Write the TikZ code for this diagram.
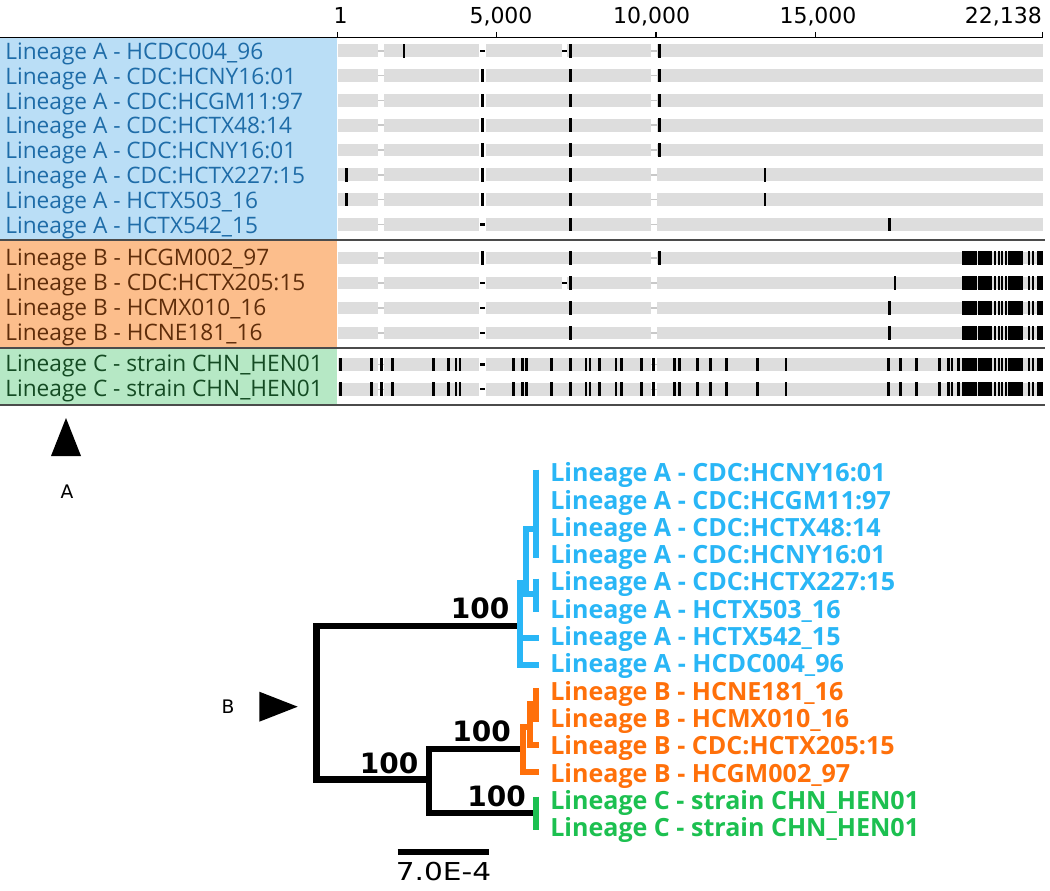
\documentclass[tikz,border=0pt]{standalone}
\usepackage{fontspec}
\usepackage{graphicx}
\setmainfont{Open Sans}
\newfontfamily\dvs{DejaVu Sans}
\definecolor{aBg}{RGB}{186,222,246}
\definecolor{bBg}{RGB}{252,190,140}
\definecolor{cBg}{RGB}{182,232,197}
\definecolor{aTx}{RGB}{30,108,168}
\definecolor{bTx}{RGB}{95,45,10}
\definecolor{cTx}{RGB}{20,75,35}
\definecolor{barGray}{RGB}{221,221,221}
\definecolor{connGray}{RGB}{200,200,200}
\definecolor{sepGray}{RGB}{75,75,75}
\definecolor{treeA}{RGB}{41,182,246}
\definecolor{treeB}{RGB}{255,112,10}
\definecolor{treeC}{RGB}{28,192,80}
\tikzset{
  tbl/.style={anchor=base west, inner sep=0pt, font=\fontsize{17pt}{19pt}\selectfont},
  leaf/.style={anchor=base west, inner sep=0pt, font=\fontsize{18.8pt}{21pt}\selectfont\bfseries},
  boot/.style={anchor=base, inner sep=0pt, font=\dvs\fontsize{21pt}{24pt}\selectfont\bfseries},
  axlab/.style={anchor=base, inner sep=0pt, font=\dvs\fontsize{16.5pt}{20pt}\selectfont},
  small/.style={anchor=base, inner sep=0pt, font=\dvs\fontsize{14pt}{16pt}\selectfont},
  blk/.style={line width=4.9pt, black},
  blu/.style={line width=4.5pt, treeA},
  org/.style={line width=4.5pt, treeB},
  grn/.style={line width=4.5pt, treeC},
  sepline/.style={line width=1.5pt, sepGray},
}
\newcommand\rowbase{%
  \fill[barGray] (338,-6.35) rectangle (378.3,6.35);
  \fill[barGray] (384.3,-6.35) rectangle (479.3,6.35);
  \fill[barGray] (486,-6.35) rectangle (651,6.35);
  \fill[barGray] (657,-6.35) rectangle (1043.3,6.35);
  \draw[connGray, line width=1.1pt] (378.3,0) -- (384.3,0) (651,0) -- (657,0);
}
\newcommand\gapb{\fill[white] (562.3,-7) rectangle (567.3,7);}
\newcommand\myticks[1]{\foreach \x in {#1} {\fill[black] (\x-1.3,-6.8) rectangle (\x+1.3,6.8);}}
\newcommand\mydash[1]{\fill[black] (#1-2.6,-1.2) rectangle (#1+2.6,1.2);}
\newcommand\myblocks{\foreach \a/\b in {961.7/976.7, 978.3/991.7, 994.3/996.3, 997.8/999.8, 1001.3/1003.3, 1004.8/1006.8, 1008.3/1023.3, 1027.5/1029.7, 1032/1034.2, 1036.7/1043.3} {\fill[black] (\a,-6.8) rectangle (\b,6.8);}}
\begin{document}
\begin{tikzpicture}[x=0.75pt,y=-0.75pt]
\useasboundingbox (0,0) rectangle (1050,891);
\fill[white] (0,0) rectangle (1050,891);

% label backgrounds
\fill[aBg] (0,38) rectangle (337.3,240);
\fill[bBg] (0,241) rectangle (337.3,347);
\fill[cBg] (0,348.5) rectangle (337.3,405);

% axis
\draw[black, line width=1pt] (0,37.3) -- (1043,37.3);
\foreach \x in {337.3,496.6,655.9,815.3,1042.7} {\draw[black, line width=1.1pt] (\x,32) -- (\x,37.3);}
\node[axlab] (t1) at (340.5,23.3) {1};
\node[axlab] (t2) at (501,23.3) {5,000};
\node[axlab] (t3) at (651.7,23.3) {10,000};
\node[axlab] (t4) at (818,23.3) {15,000};
\node[axlab] (t5) at (1003.3,23.3) {22,138};

% ---- Lineage A rows
\begin{scope}[shift={(0,50.8)}]\rowbase\gapb\myticks{404,570.7,659.3}\mydash{482.7}\mydash{564.8}\end{scope}
\begin{scope}[shift={(0,75.6)}]\rowbase\myticks{482.7,570.7,659.3}\end{scope}
\begin{scope}[shift={(0,100.4)}]\rowbase\myticks{482.7,570.7,659.3}\end{scope}
\begin{scope}[shift={(0,125.2)}]\rowbase\myticks{482.7,570.7,659.3}\end{scope}
\begin{scope}[shift={(0,150.0)}]\rowbase\myticks{482.7,570.7,659.3}\end{scope}
\begin{scope}[shift={(0,174.8)}]\rowbase\myticks{346.7,482.7,570.7,765}\end{scope}
\begin{scope}[shift={(0,199.6)}]\rowbase\myticks{346.7,482.7,570.7,765}\end{scope}
\begin{scope}[shift={(0,224.4)}]\rowbase\myticks{570.7,889.3}\mydash{482.7}\end{scope}
% ---- Lineage B rows
\begin{scope}[shift={(0,258)}]\rowbase\myticks{482.7,570.7,659.3}\myblocks\end{scope}
\begin{scope}[shift={(0,283)}]\rowbase\gapb\myticks{570.7,895}\mydash{482.7}\mydash{564.8}\myblocks\end{scope}
\begin{scope}[shift={(0,308)}]\rowbase\myticks{570.7,889.3}\mydash{482.7}\myblocks\end{scope}
\begin{scope}[shift={(0,333)}]\rowbase\myticks{570.7,889.3}\mydash{482.7}\myblocks\end{scope}
% ---- Lineage C rows
\foreach \yy in {364.7,389.3} {
\begin{scope}[shift={(0,\yy)}]\rowbase
\myticks{340.7,371.7,381.7,392.3,433.3,448.3,456,460,513.3,522.7,526.7,551.7,570.7,586,590,599.3,616,621.7,641.7,653.3,674.3,679.3,697.3,710.7,726.7,757.3,786,888.3,900.7,916.7,939.3,948.3,951.8,958.3}
\mydash{482.7}\myblocks\end{scope}}

% separators
\draw[sepline] (0,240.5) -- (1045,240.5);
\draw[sepline] (0,347.7) -- (1045,347.7);
\draw[sepline] (0,405.2) -- (1045,405.2);

% table labels
\node[tbl, text=aTx] (la1) at (5,59.6) {Lineage A - HCDC004\_96};
\node[tbl, text=aTx] (la2) at (5,84.4) {Lineage A - CDC:HCNY16:01};
\node[tbl, text=aTx] (la3) at (5,109.2) {Lineage A - CDC:HCGM11:97};
\node[tbl, text=aTx] (la4) at (5,134.0) {Lineage A - CDC:HCTX48:14};
\node[tbl, text=aTx] (la5) at (5,158.8) {Lineage A - CDC:HCNY16:01};
\node[tbl, text=aTx] (la6) at (5,183.6) {Lineage A - CDC:HCTX227:15};
\node[tbl, text=aTx] (la7) at (5,208.4) {Lineage A - HCTX503\_16};
\node[tbl, text=aTx] (la8) at (5,233.2) {Lineage A - HCTX542\_15};
\node[tbl, text=bTx] (lb1) at (5,265.2) {Lineage B - HCGM002\_97};
\node[tbl, text=bTx] (lb2) at (5,290.2) {Lineage B - CDC:HCTX205:15};
\node[tbl, text=bTx] (lb3) at (5,315.2) {Lineage B - HCMX010\_16};
\node[tbl, text=bTx] (lb4) at (5,340.2) {Lineage B - HCNE181\_16};
\node[tbl, text=cTx] (lc1) at (5,371.9) {Lineage C - strain CHN\_HEN01};
\node[tbl, text=cTx] (lc2) at (5,396.5) {Lineage C - strain CHN\_HEN01};

% markers A and B
\fill[black] (51,456) -- (66,418) -- (81,456) -- cycle;
\node[small] (markA) at (67,498) {A};
\fill[black] (259.3,691.7) -- (297.7,706.7) -- (259.3,721.7) -- cycle;
\node[small] (markB) at (228,713) {B};

% ---- tree
\coordinate (rootT) at (316.5,626);
\coordinate (rootB) at (316.5,779.5);
\coordinate (nA) at (520,626);
\coordinate (nBC) at (429,779.5);
\coordinate (nBCt) at (429,749);
\coordinate (nBCb) at (429,813);
\coordinate (nB) at (521,749);
\coordinate (nC) at (533,813);
\draw[blk] (nA) -- (rootT) -- (rootB) -- (nBC);
\draw[blk] (nB) -- (nBCt) -- (nBCb) -- (nC);

% blue clade
\coordinate (a14t) at (536,469.5);
\coordinate (a14b) at (536,557.5);
\coordinate (a14m) at (536,529);
\coordinate (a16t) at (525.7,529);
\coordinate (a16b) at (525.7,594);
\coordinate (a56m) at (536,594);
\coordinate (a56t) at (536,578.5);
\coordinate (a56b) at (536,611.5);
\coordinate (aR) at (525.7,583);
\coordinate (aT) at (520,583);
\coordinate (aB) at (520,664.5);
\coordinate (a8) at (538.5,664.5);
\coordinate (a7s) at (520,637.5);
\coordinate (a7) at (538.5,637.5);
\draw[blu] (a14t) -- (a14b);
\draw[blu] (a14m) -- (a16t) -- (a16b) -- (a56m);
\draw[blu] (a56t) -- (a56b);
\draw[blu] (aR) -- (aT) -- (aB) -- (a8);
\draw[blu] (a7s) -- (a7);

% orange clade
\coordinate (b12t) at (535.5,688.3);
\coordinate (b12b) at (535.5,721.7);
\coordinate (b12m) at (535.5,704);
\coordinate (b13t) at (530,704);
\coordinate (b13b) at (530,745);
\coordinate (b3) at (538.5,745);
\coordinate (bRm) at (530,727);
\coordinate (bT) at (523,727);
\coordinate (bB) at (523,771.7);
\coordinate (b4) at (538.5,771.7);
\draw[org] (b12t) -- (b12b);
\draw[org] (b12m) -- (b13t) -- (b13b) -- (b3);
\draw[org] (bRm) -- (bT) -- (bB) -- (b4);

% green clade
\coordinate (c12t) at (535.5,796.7);
\coordinate (c12b) at (535.5,830);
\draw[grn] (c12t) -- (c12b);

% bootstrap values
\node[boot] (bs1) at (480,618.3) {100};
\node[boot] (bs2) at (481.7,741.7) {100};
\node[boot] (bs3) at (389,773.3) {100};
\node[boot] (bs4) at (496.7,806.7) {100};

% leaf labels
\node[leaf, text=treeA] (t01) at (550,481.7) {Lineage A - CDC:HCNY16:01};
\node[leaf, text=treeA] (t02) at (550,509.0) {Lineage A - CDC:HCGM11:97};
\node[leaf, text=treeA] (t03) at (550,536.3) {Lineage A - CDC:HCTX48:14};
\node[leaf, text=treeA] (t04) at (550,563.6) {Lineage A - CDC:HCNY16:01};
\node[leaf, text=treeA] (t05) at (550,590.9) {Lineage A - CDC:HCTX227:15};
\node[leaf, text=treeA] (t06) at (550,618.2) {Lineage A - HCTX503\_16};
\node[leaf, text=treeA] (t07) at (550,645.5) {Lineage A - HCTX542\_15};
\node[leaf, text=treeA] (t08) at (550,672.8) {Lineage A - HCDC004\_96};
\node[leaf, text=treeB] (t09) at (550,700.1) {Lineage B - HCNE181\_16};
\node[leaf, text=treeB] (t10) at (550,727.4) {Lineage B - HCMX010\_16};
\node[leaf, text=treeB] (t11) at (550,754.7) {Lineage B - CDC:HCTX205:15};
\node[leaf, text=treeB] (t12) at (550,782.0) {Lineage B - HCGM002\_97};
\node[leaf, text=treeC] (t13) at (550,809.3) {Lineage C - strain CHN\_HEN01};
\node[leaf, text=treeC] (t14) at (550,836.6) {Lineage C - strain CHN\_HEN01};

% scale bar
\coordinate (sbL) at (397.7,852);
\coordinate (sbR) at (489.3,852);
\draw[black, line width=4.3pt] (sbL) -- (sbR);
\node[anchor=base, inner sep=0pt, font=\dvs\fontsize{18.5pt}{21pt}\selectfont] (sbT) at (443.5,880) {\scalebox{1.2}[1]{7.0E-4}};
\end{tikzpicture}
\end{document}
